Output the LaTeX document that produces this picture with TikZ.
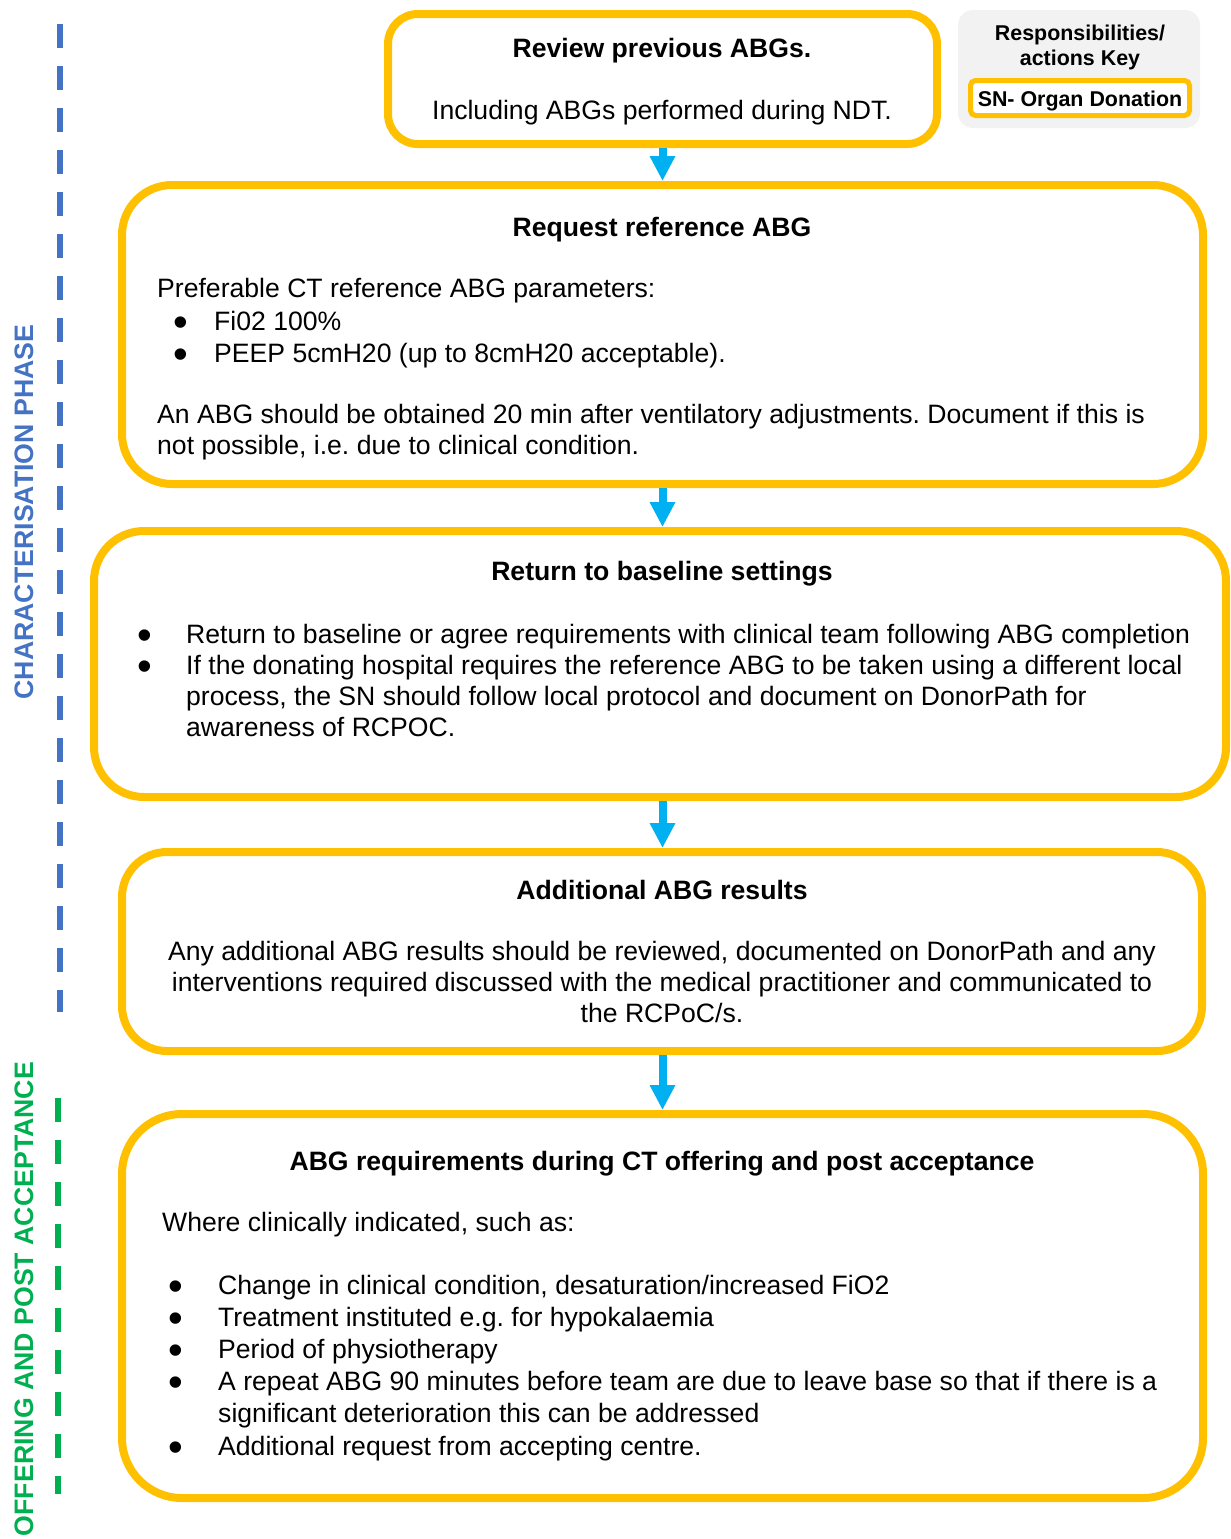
\documentclass[tikz,border=0pt]{standalone}
\usepackage{fontspec}
\setmainfont{Liberation Sans}
\usepackage{array}
\usetikzlibrary{arrows.meta}
\definecolor{odyellow}{HTML}{FFC000}
\definecolor{odblue}{HTML}{00B0F0}
\definecolor{phaseblue}{HTML}{4472C4}
\definecolor{phasegreen}{HTML}{00B050}
\definecolor{keygray}{HTML}{F2F2F2}
\frenchspacing
\newcommand{\bodyfont}{\fontsize{26.6}{31.5}\selectfont}
% list bullet, centred on the start of its column
\newcommand{\bul}{\makebox[0pt]{\raisebox{-6pt}{\fontsize{42}{42}\selectfont\textbullet}}}
\newcommand{\bulletlist}[2]{\begin{tabular}[t]{@{}p{#1}@{}l@{}}#2\end{tabular}}
\begin{document}
\begin{tikzpicture}[x=1pt,y=-1pt,
  stagebox/.style={draw=odyellow, line width=8pt, inner sep=0pt},
  flow/.style={draw=odblue, line width=8pt, -{Triangle[width=24pt,length=25pt]}},
  body/.style={font=\bodyfont, inner sep=0pt},
  head/.style={font=\bfseries\bodyfont, inner sep=0pt},
  keytext/.style={font=\bfseries\fontsize{21.4}{25}\selectfont, inner sep=0pt},
  phase/.style={font=\bfseries\fontsize{26.7}{30}\selectfont, rotate=90, inner sep=0pt},
  phaseline/.style={line width=6pt, dash pattern=on 24pt off 18pt}]
\useasboundingbox (0,0) rectangle (1231,1539);

% stage boxes
\node[stagebox, rounded corners=30pt, minimum width=549pt, minimum height=130pt] (b1) at (662.5,79) {};
\node[stagebox, rounded corners=50pt, minimum width=1081pt, minimum height=299pt] (b2) at (662.5,334.5) {};
\node[stagebox, rounded corners=50pt, minimum width=1132pt, minimum height=266pt] (b3) at (660,664) {};
\node[stagebox, rounded corners=45pt, minimum width=1080pt, minimum height=199pt] (b4) at (662,951.5) {};
\node[stagebox, rounded corners=60pt, minimum width=1081pt, minimum height=384pt] (b5) at (662.5,1306) {};

% connectors (all on the common centre line)
\draw[flow] (b1.south) -- (b1.south |- b2.north);
\draw[flow] (b2.south) -- (b2.south |- b3.north);
\draw[flow] (b2.south |- b3.south) -- (b2.south |- b4.north);
\draw[flow] (b2.south |- b4.south) -- (b2.south |- b5.north);

% responsibilities key
\node[fill=keygray, rounded corners=15pt, minimum width=242pt, minimum height=118pt, inner sep=0pt] (key) at (1079,69) {};
\node[keytext, anchor=base, align=center] (keytitle) at (1080,65) {Responsibilities/\\actions Key};
\node[draw=odyellow, fill=white, line width=5pt, rounded corners=5pt, minimum width=219pt, minimum height=35pt, inner sep=0pt] (keysn) at (1080,98) {};
\node[keytext, anchor=base] (keysnlabel) at (1080,106) {SN- Organ Donation};

% box 1
\node[head, anchor=base] (t1a) at (662,57) {Review previous ABGs.};
\node[body, anchor=base] (t1b) at (662,119) {Including ABGs performed during NDT.};

% box 2
\node[head, anchor=base] (t2a) at (662,236) {Request reference ABG};
\node[body, anchor=base west] (t2b) at (157,297) {Preferable CT reference ABG parameters:};
\node[body, anchor=base west, font=\fontsize{26.6}{32}\selectfont] (t2c) at (181,330)
  {\bulletlist{33pt}{\bul & Fi02 100\% \\ \bul & PEEP 5cmH20 (up to 8cmH20 acceptable).}};
\node[body, anchor=base west, align=left, font=\fontsize{26.6}{31}\selectfont] (t2d) at (157,454)
  {An ABG should be obtained 20 min after ventilatory adjustments. Document if this is\\not possible, i.e. due to clinical condition.};

% box 3
\node[head, anchor=base] (t3a) at (662,580) {Return to baseline settings};
\node[body, anchor=base west, font=\fontsize{26.6}{31.3}\selectfont] (t3b) at (145,643)
  {\bulletlist{41pt}{\bul & Return to baseline or agree requirements with clinical team following ABG completion\\
   \bul & If the donating hospital requires the reference ABG to be taken using a different local\\
   & process, the SN should follow local protocol and document on DonorPath for\\
   & awareness of RCPOC.}};

% box 4
\node[head, anchor=base] (t4a) at (662,899) {Additional ABG results};
\node[body, anchor=base, align=center, font=\fontsize{26.6}{31}\selectfont] (t4b) at (662,1022)
  {Any additional ABG results should be reviewed, documented on DonorPath and any\\
   interventions required discussed with the medical practitioner and communicated to\\
   the RCPoC/s.};

% box 5
\node[head, anchor=base] (t5a) at (662,1170) {ABG requirements during CT offering and post acceptance};
\node[body, anchor=base west] (t5b) at (162,1231) {Where clinically indicated, such as:};
\node[body, anchor=base west, font=\fontsize{26.6}{32.2}\selectfont] (t5c) at (176,1294)
  {\bulletlist{42pt}{\bul & Change in clinical condition, desaturation/increased FiO2\\
   \bul & Treatment instituted e.g. for hypokalaemia\\
   \bul & Period of physiotherapy\\
   \bul & A repeat ABG 90 minutes before team are due to leave base so that if there is a\\
   & significant deterioration this can be addressed\\
   \bul & Additional request from accepting centre.}};

% phase markers
\node[phase, text=phaseblue] (ph1) at (24,512) {CHARACTERISATION PHASE};
\node[phase, text=phasegreen] (ph2) at (24,1299) {OFFERING AND POST ACCEPTANCE};
\coordinate (ph1top) at (60,24);
\coordinate (ph1bot) at (60,1012);
\coordinate (ph2top) at (58,1098);
\coordinate (ph2bot) at (58,1494);
\draw[phaseline, phaseblue] (ph1top) -- (ph1bot);
\draw[phaseline, phasegreen] (ph2top) -- (ph2bot);
\end{tikzpicture}
\end{document}
